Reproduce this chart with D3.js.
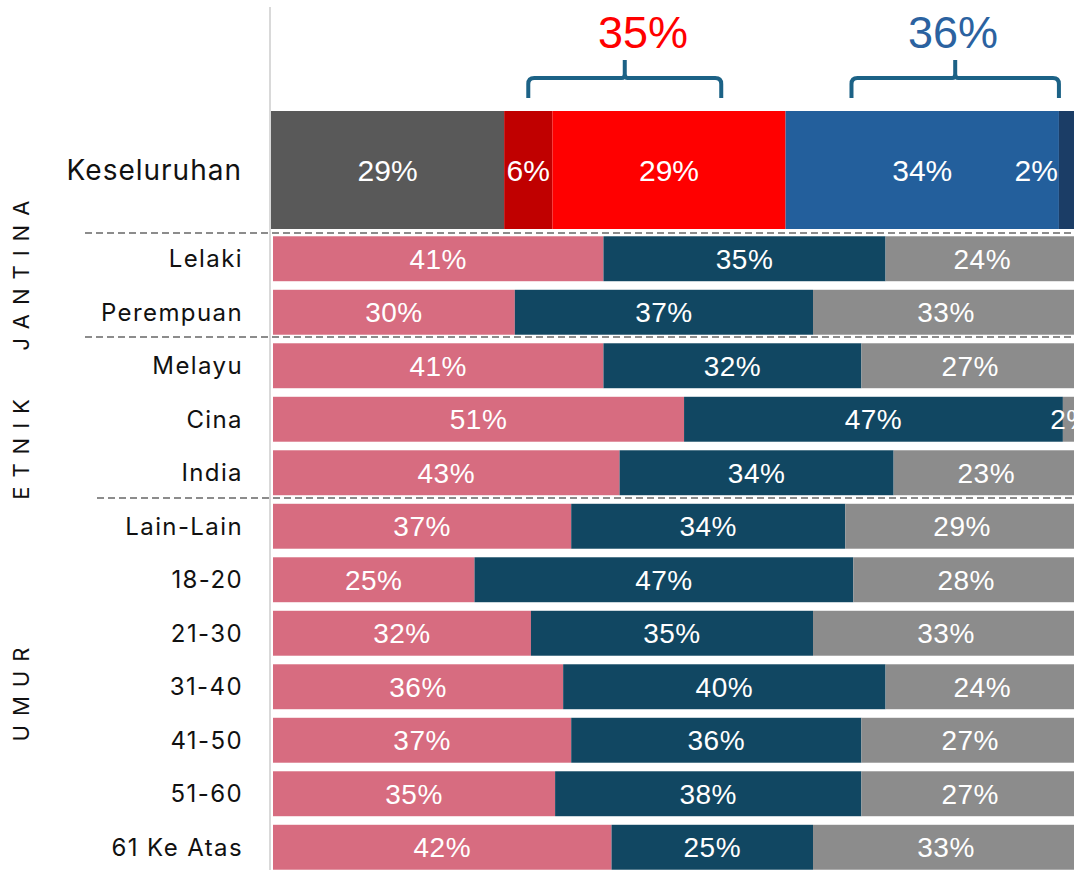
<!DOCTYPE html>
<html>
<head>
<meta charset="utf-8">
<script src="https://cdn.jsdelivr.net/npm/d3@7"></script>
<style>
  body { margin: 0; background: #fff; overflow: hidden; }
  .lbl { font-family: "Liberation Sans", Arial, sans-serif; fill: #fff; }
  .cat { font-family: Inter, "Noto Sans", sans-serif; fill: #111; }
</style>
</head>
<body>
<script>
// overall bar
var overallValues = [29, 6, 29, 34, 2];
var overallColors = ["#595959", "#C00000", "#FF0000", "#235F9C", "#1B3D66"];
var groupTotals = [35, 36];

// breakdown rows
var rows = ["Lelaki", "Perempuan", "Melayu", "Cina", "India", "Lain-Lain",
            "18-20", "21-30", "31-40", "41-50", "51-60", "61 Ke Atas"];
var pinkVals = [41, 30, 41, 51, 43, 37, 25, 32, 36, 37, 35, 42];
var navyVals = [35, 37, 32, 47, 34, 34, 47, 35, 40, 36, 38, 25];
var greyVals = [24, 33, 27, 2, 23, 29, 28, 33, 24, 27, 27, 33];
var rowColors = ["#D76C80", "#114762", "#8C8C8C"];

var groups = [{name: "JANTINA", from: 0, to: 1}, {name: "ETNIK", from: 2, to: 4}, {name: "UMUR", from: 5, to: 11}];

var width = 1074, height = 870;

var svg = d3.select("body").append("svg")
    .attr("width", width)
    .attr("height", height);

// scales
var xTop = d3.scaleLinear().domain([0, 100]).range([271, 1075]);
var x = d3.scaleLinear().domain([0, 100]).range([273, 1079]);
var y = d3.scaleBand().domain(rows).range([232, 874]).paddingInner(0.16).paddingOuter(0.08);

// axis line
svg.append("line")
    .attr("x1", 270).attr("x2", 270)
    .attr("y1", 7).attr("y2", height)
    .attr("stroke", "#D9D9D9").attr("stroke-width", 2);

// overall stacked bar
var cum = 0;
var overall = overallValues.map(function(v, i) {
    var d = {v: v, x0: cum, x1: cum + v, c: overallColors[i]};
    cum += v;
    return d;
});

svg.selectAll(".ov").data(overall).enter().append("rect")
    .attr("x", function(d) { return xTop(d.x0); })
    .attr("width", function(d) { return xTop(d.x1) - xTop(d.x0); })
    .attr("y", 111).attr("height", 118)
    .attr("fill", function(d) { return d.c; });

svg.selectAll(".ovt").data(overall).enter().append("text")
    .attr("class", "lbl")
    .attr("x", function(d, i) {
        // last small slice label sits at the end of the blue block
        return i == overall.length - 1 ? xTop(d.x0) - 1 : (xTop(d.x0) + xTop(d.x1)) / 2;
    })
    .attr("y", 170).attr("dy", "0.36em")
    .attr("text-anchor", function(d, i) { return i == overall.length - 1 ? "end" : "middle"; })
    .style("font-size", "30px")
    .text(function(d) { return d.v + "%"; });

svg.append("text").attr("class", "cat")
    .attr("x", 242).attr("y", 170).attr("dy", "0.36em")
    .attr("text-anchor", "end")
    .style("font-size", "28px")
    .style("letter-spacing", "1px")
    .text("Keseluruhan");

// braces above the bar
var braces = [
    {a: 32, b: 56, total: groupTotals[0], color: "#FF0000", tx: 643},
    {a: 72.2, b: 98, total: groupTotals[1], color: "#2B62A0", tx: 953}
];
braces.forEach(function(b) {
    var x1 = xTop(b.a), x2 = xTop(b.b), m = (x1 + x2) / 2, r = 6;
    var yb = 98, yh = 78, yt = 60;
    var p = "M" + x1 + "," + yb +
        " L" + x1 + "," + (yh + r) +
        " Q" + x1 + "," + yh + " " + (x1 + r) + "," + yh +
        " L" + (m - 3) + "," + yh +
        " Q" + m + "," + yh + " " + m + "," + (yh - 4) +
        " L" + m + "," + yt +
        " M" + m + "," + (yh - 4) +
        " Q" + m + "," + yh + " " + (m + 3) + "," + yh +
        " L" + (x2 - r) + "," + yh +
        " Q" + x2 + "," + yh + " " + x2 + "," + (yh + r) +
        " L" + x2 + "," + yb;
    svg.append("path").attr("d", p)
        .attr("fill", "none").attr("stroke", "#1C6286").attr("stroke-width", 4);
    svg.append("text")
        .attr("x", b.tx).attr("y", 48)
        .attr("text-anchor", "middle")
        .style("font-family", "'Liberation Sans', Arial, sans-serif")
        .style("font-size", "45px")
        .attr("fill", b.color)
        .text(b.total + "%");
});

// breakdown rows
var stackData = rows.map(function(r, i) {
    return {row: r, pink: pinkVals[i], navy: navyVals[i], grey: greyVals[i]};
});
var series = d3.stack().keys(["pink", "navy", "grey"])(stackData);

var layer = svg.selectAll(".layer").data(series).enter().append("g")
    .attr("fill", function(d, i) { return rowColors[i]; });

layer.selectAll("rect").data(function(d) { return d; }).enter().append("rect")
    .attr("x", function(d) { return x(d[0]); })
    .attr("width", function(d) { return x(d[1]) - x(d[0]); })
    .attr("y", function(d) { return y(d.data.row); })
    .attr("height", y.bandwidth());

layer.selectAll("text").data(function(d) { return d; }).enter().append("text")
    .attr("class", "lbl")
    .attr("x", function(d) { return (x(d[0]) + x(d[1])) / 2; })
    .attr("y", function(d) { return y(d.data.row) + y.bandwidth() / 2; })
    .attr("dy", "0.36em")
    .attr("text-anchor", "middle")
    .style("font-size", "28px")
    .style("letter-spacing", "0.5px")
    .text(function(d) { return (d[1] - d[0]) + "%"; });

svg.selectAll(".cat-row").data(rows).enter().append("text")
    .attr("class", "cat")
    .attr("x", 243)
    .attr("y", function(d) { return y(d) + y.bandwidth() / 2; })
    .attr("dy", "0.36em")
    .attr("text-anchor", "end")
    .style("font-size", "24px")
    .style("letter-spacing", "1.4px")
    .text(function(d) { return d; });

// dashed separators
var seps = [{y: 233, x1: 85}, {y: 337, x1: 85}, {y: 498, x1: 97}];
svg.selectAll(".sep").data(seps).enter().append("line")
    .attr("x1", function(d) { return d.x1; }).attr("x2", width)
    .attr("y1", function(d) { return d.y; }).attr("y2", function(d) { return d.y; })
    .attr("stroke", "#8C8C8C").attr("stroke-width", 2)
    .attr("stroke-dasharray", "7,4");

// rotated group labels
var groupCenters = [271, 445, 690];
svg.selectAll(".grp").data(groups).enter().append("text")
    .attr("class", "cat")
    .attr("transform", function(d, i) { return "translate(21," + groupCenters[i] + ") rotate(-90)"; })
    .attr("dy", "0.36em")
    .attr("text-anchor", "middle")
    .style("font-size", "22px")
    .style("letter-spacing", "9px")
    .text(function(d) { return d.name; });
</script>
</body>
</html>
